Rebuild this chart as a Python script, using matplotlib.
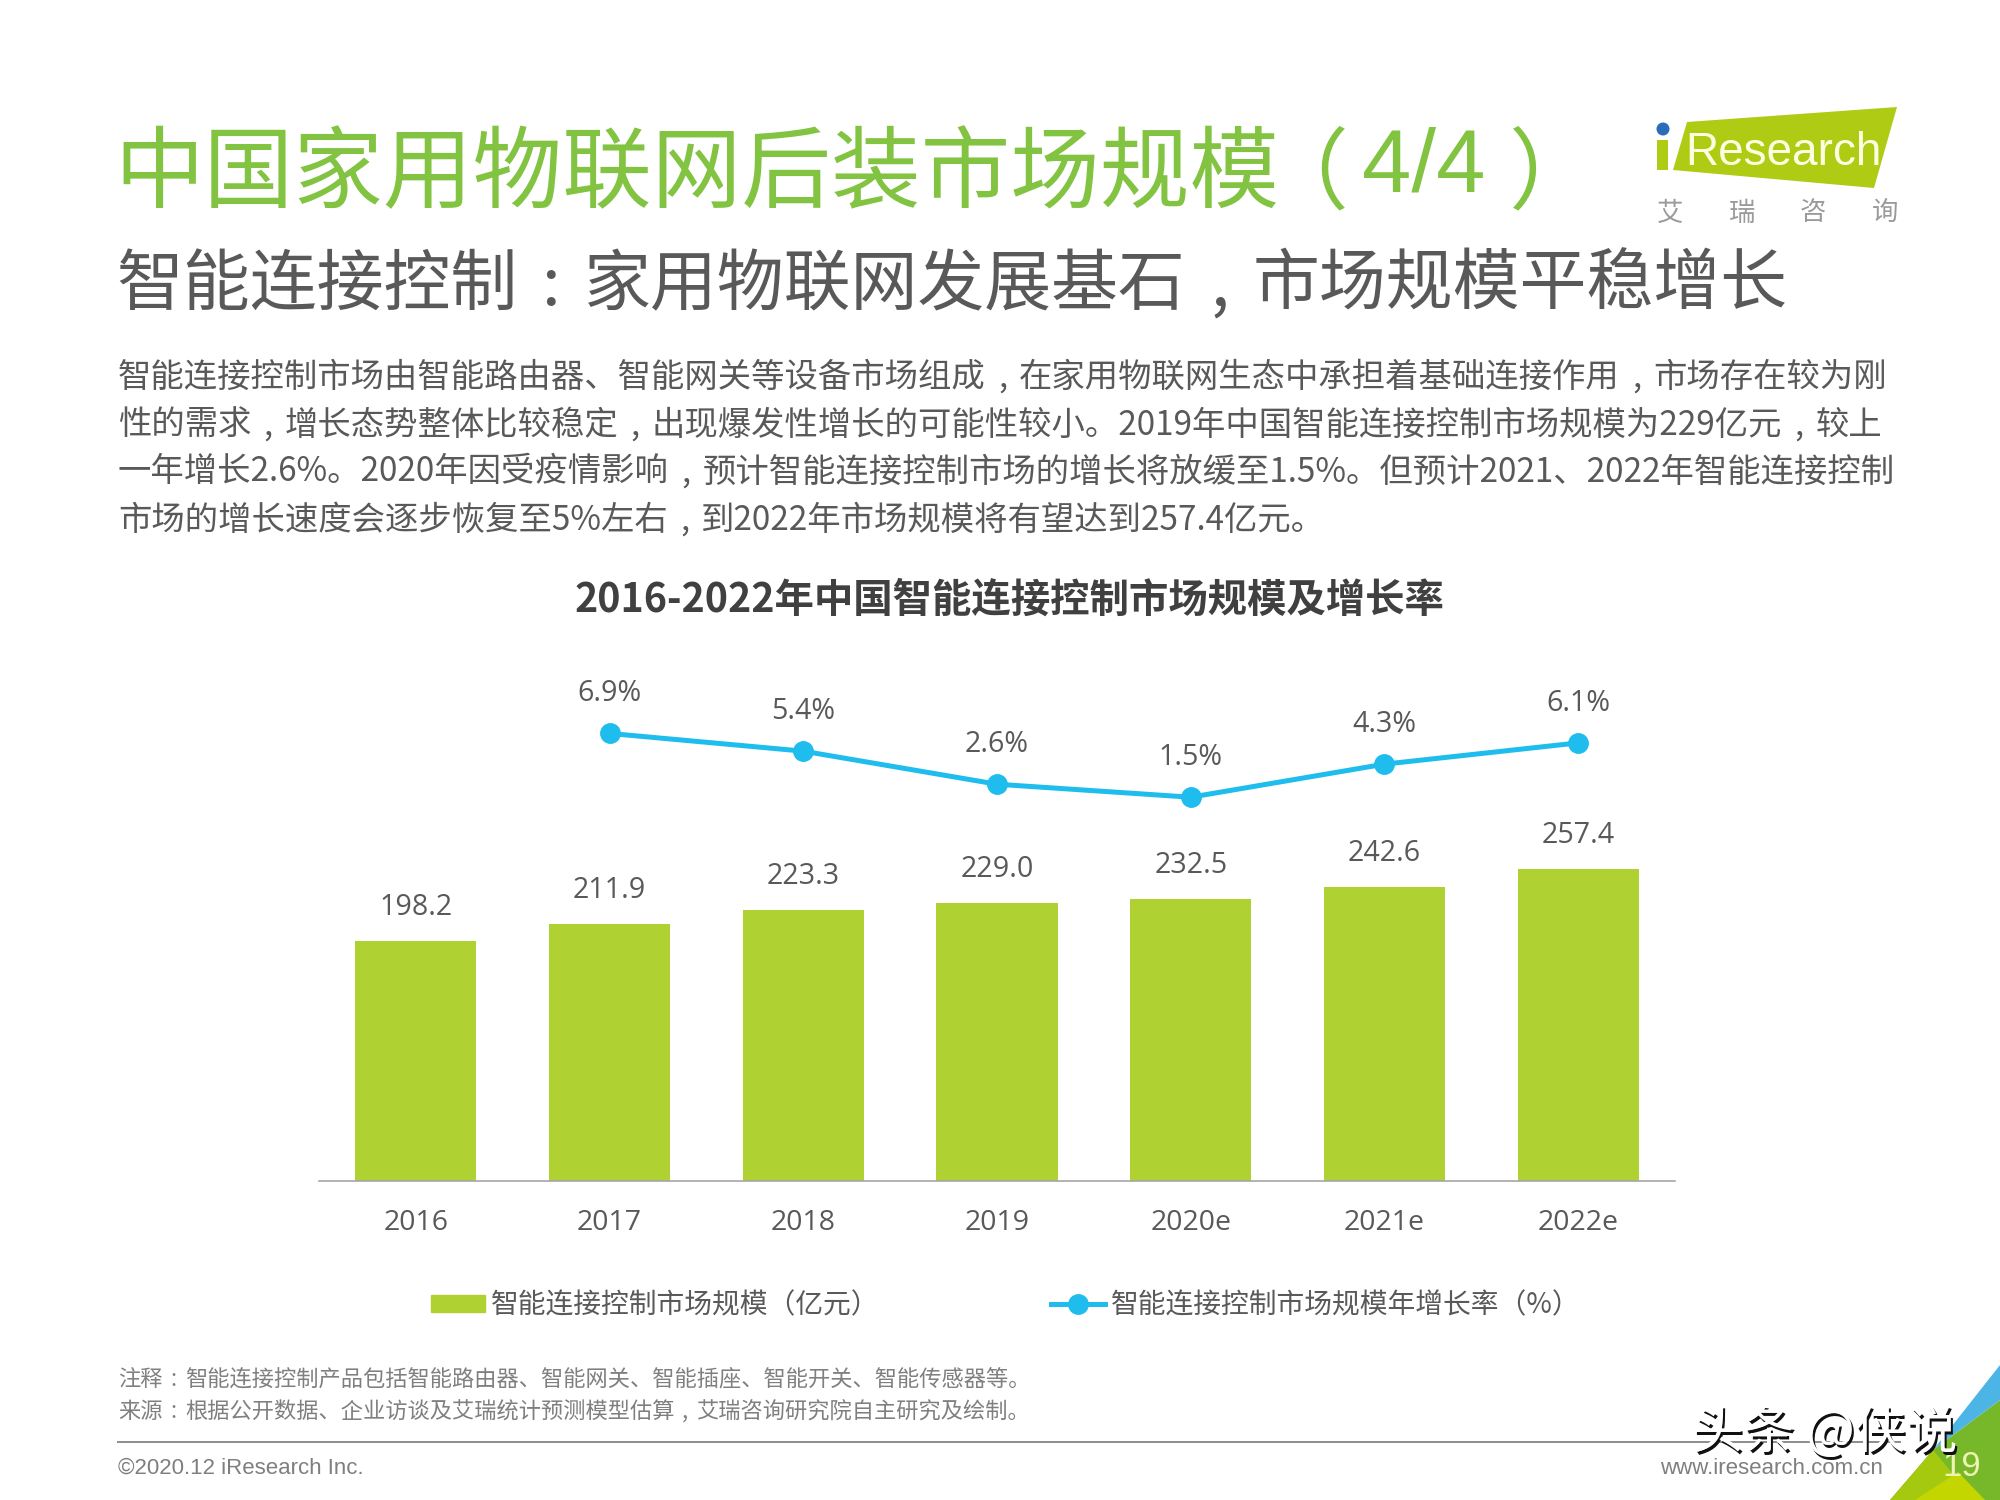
import re
import matplotlib
matplotlib.use("Agg")
import matplotlib.pyplot as plt
from matplotlib.patches import Polygon, Circle, Rectangle
from matplotlib.lines import Line2D
from matplotlib.patches import Patch

CJK = ["Noto Sans CJK SC", "DejaVu Sans"]
plt.rcParams["font.family"] = CJK

years = ["2016", "2017", "2018", "2019", "2020e", "2021e", "2022e"]
market_size = [198.2, 211.9, 223.3, 229.0, 232.5, 242.6, 257.4]
growth_years = [1, 2, 3, 4, 5, 6]
growth_rate = [6.9, 5.4, 2.6, 1.5, 4.3, 6.1]

title = "中国家用物联网后装市场规模"
subtitle = "智能连接控制：家用物联网发展基石，市场规模平稳增长"
body_lines = [
    "智能连接控制市场由智能路由器、智能网关等设备市场组成，在家用物联网生态中承担着基础连接作用，市场存在较为刚",
    "性的需求，增长态势整体比较稳定，出现爆发性增长的可能性较小。2019年中国智能连接控制市场规模为229亿元，较上",
    "一年增长2.6%。2020年因受疫情影响，预计智能连接控制市场的增长将放缓至1.5%。但预计2021、2022年智能连接控制",
    "市场的增长速度会逐步恢复至5%左右，到2022年市场规模将有望达到257.4亿元。",
]
chart_title = "2016-2022年中国智能连接控制市场规模及增长率"
bar_name = "智能连接控制市场规模（亿元）"
line_name = "智能连接控制市场规模年增长率（%）"
notes = [
    "注释：智能连接控制产品包括智能路由器、智能网关、智能插座、智能开关、智能传感器等。",
    "来源：根据公开数据、企业访谈及艾瑞统计预测模型估算，艾瑞咨询研究院自主研究及绘制。",
]

GREEN = "#AFD232"
BLUE = "#1FBDEE"
TEXT = "#595959"
TITLE_GREEN = "#82C341"

fig = plt.figure(figsize=(20, 15), dpi=100, facecolor="white")
renderer = fig.canvas.get_renderer()

# page layer in pixel coordinates
page = fig.add_axes([0, 0, 1, 1])
page.set_xlim(0, 2000)
page.set_ylim(1500, 0)
page.axis("off")


def put(x, y, s, size, color=TEXT, ha="left", **kw):
    return page.text(x, y, s, fontsize=size, color=color, ha=ha, va="center", **kw)


def put_runs(x, y, s, size, color=TEXT):
    # the reference has narrow , and : centred in a full-width cell
    em = size * 100 / 72
    base = y + 0.36 * em
    for run in re.split("([，：])", s):
        if run in ("，", "："):
            narrow = "," if run == "，" else ":"
            page.text(x + 0.5 * em, base, narrow, fontsize=size, color=color, ha="center", va="baseline")
            x += em
        elif run:
            t = page.text(x, base, run, fontsize=size, color=color, va="baseline")
            x += t.get_window_extent(renderer).width


put(114, 176, title, 64.5, color=TITLE_GREEN)
put(1304, 176, "（", 64, color=TITLE_GREEN, ha="center")
put(1362, 168, "4/4", 64, color=TITLE_GREEN, family=["Liberation Sans"])
put(1553, 176, "）", 64, color=TITLE_GREEN, ha="center")
put_runs(116, 281, subtitle, 48.2)
for y, line in zip([374.5, 422.5, 469.5, 517.5], body_lines):
    put_runs(118, y, line, 24)
put(1009, 600, chart_title, 28.4, color="#404040", ha="center", fontweight="bold")
for y, line in zip([1378, 1410.5], notes):
    put_runs(118, y, line, 16, color="#7F7F7F")

# logo
page.add_patch(Polygon([(1687, 122), (1897, 107), (1874, 188), (1673, 170)], color="#AFCB14", lw=0))
page.add_patch(Rectangle((1657, 140), 11, 30, color="#AFCB14", lw=0))
page.add_patch(Circle((1663, 129), 6.5, color="#2B6CB8", lw=0))
put(1685, 153, "Research", 33, color="#FBFFE0", family=["Liberation Sans"])
for x, ch in zip([1670, 1742, 1813, 1885], "艾瑞咨询"):
    put(x, 213, ch, 19, color="#9A9A9A", ha="center")

# footer
page.plot([118, 1900], [1442, 1442], color="#8C8C8C", lw=1.4)
put(118, 1468, "©2020.12 iResearch Inc.", 16, color="#7F7F7F", family=["Liberation Sans"])
put(1883, 1468, "www.iresearch.com.cn", 16, color="#7F7F7F", ha="right", family=["Liberation Sans"])

# corner
page.add_patch(Polygon([(1933, 1450), (2000, 1400), (2000, 1500), (1890, 1500)], color="#76B82A", lw=0))
page.add_patch(Polygon([(2000, 1365), (1933, 1450), (2000, 1400)], color="#4DB5E6", lw=0))
page.add_patch(Polygon([(1890, 1500), (1933, 1450), (1975, 1500)], color="#A5C90F", lw=0))
page.add_patch(Polygon([(1915, 1500), (1958, 1472), (1985, 1500)], color="#C3D600", lw=0))
put(1962, 1466, "19", 25, color="#EDF3B0", ha="center", family=["Liberation Sans"])

# watermark
put(1694, 1436, "头条 @侠说", 37, color="#111111")
put(1692, 1433, "头条 @侠说", 37, color="white")

# chart
ax = fig.add_axes([319 / 2000, 1 - 1181 / 1500, 1356 / 2000, 581 / 1500])
ax.patch.set_alpha(0)
ax.bar(range(len(years)), market_size, width=0.625, color=GREEN)
ax.set_xlim(-0.5, 6.5)
ax.set_ylim(0, 479)
ax.set_xticks(range(len(years)))
ax.set_xticklabels(years, fontsize=20.5, color=TEXT, family=["Open Sans"])
ax.tick_params(axis="x", length=0, pad=20.5)
ax.set_yticks([])
for side in ["top", "left", "right"]:
    ax.spines[side].set_visible(False)
ax.spines["bottom"].set_color("#A6A6A6")
ax.spines["bottom"].set_linewidth(1.2)
for i, v in enumerate(market_size):
    ax.annotate(f"{v:.1f}", (i, v), xytext=(0, 24), textcoords="offset points",
                ha="center", va="center", fontsize=20.6, color=TEXT, family=["Open Sans"])

ax2 = ax.twinx()
ax2.plot(growth_years, growth_rate, color=BLUE, lw=3.6, marker="o", ms=14)
ax2.set_ylim(-31, 18.2)
ax2.axis("off")
for x, v in zip(growth_years, growth_rate):
    ax2.annotate(f"{v:.1f}%", (x, v), xytext=(0, 28.7), textcoords="offset points",
                 ha="center", va="center", fontsize=20.6, color=TEXT, family=["Open Sans"])

handles = [
    Patch(color=GREEN, label=bar_name),
    Line2D([], [], color=BLUE, lw=3.6, marker="o", ms=14, label=line_name),
]
fig.legend(handles=handles, loc="center", bbox_to_anchor=(1005.5 / 2000, 1 - 1305 / 1500), ncol=2,
           frameon=False, fontsize=20, labelcolor=TEXT, handlelength=1.95, handleheight=0.55,
           handletextpad=0.2, columnspacing=6.18)

fig.savefig("out.png", dpi=100)
